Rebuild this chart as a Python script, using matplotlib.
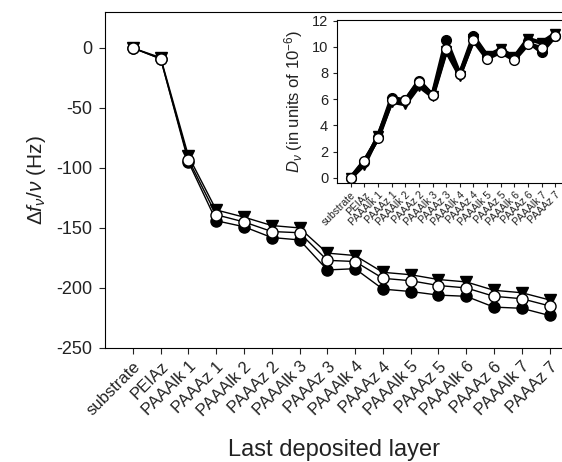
import numpy as np
import matplotlib
matplotlib.use("Agg")
import matplotlib.pyplot as plt

plt.rcParams['font.family'] = ['Liberation Sans', 'DejaVu Sans']
plt.rcParams['axes.unicode_minus'] = False
plt.rcParams['mathtext.fontset'] = 'custom'
plt.rcParams['mathtext.rm'] = 'Liberation Sans'
plt.rcParams['mathtext.it'] = 'Liberation Sans:italic'

layers = ["substrate", "PEIAz", "PAAAlk 1", "PAAAz 1", "PAAAlk 2", "PAAAz 2",
          "PAAAlk 3", "PAAAz 3", "PAAAlk 4", "PAAAz 4", "PAAAlk 5", "PAAAz 5",
          "PAAAlk 6", "PAAAz 6", "PAAAlk 7", "PAAAz 7"]

# frequency shift (Hz), three overtones
df_filled = [0, -9, -95, -144, -149, -158, -160, -185, -184, -201, -203, -206, -207, -216, -217, -223]
df_open = [0, -9, -93, -139, -145, -153, -154, -177, -178, -192, -194, -198, -200, -207, -209, -215]
df_tri = [0, -8, -90, -135, -141, -148, -150, -171, -173, -187, -189, -193, -195, -202, -204, -210]

# dissipation (1e-6)
d_filled = [0, 1.2, 3.1, 6.1, 5.9, 7.4, 6.3, 10.5, 7.9, 10.8, 9.3, 9.7, 9.2, 10.4, 9.6, 10.8]
d_open = [0, 1.3, 3.0, 5.9, 5.9, 7.3, 6.3, 9.8, 7.9, 10.5, 9.1, 9.6, 9.0, 10.2, 9.9, 10.8]
d_tri = [0, 1.0, 3.2, 5.8, 5.6, 7.0, 6.2, 9.7, 7.8, 10.6, 9.3, 9.8, 9.2, 10.6, 10.3, 11.0]

x = np.arange(len(layers))

fig = plt.figure(figsize=(5.62, 4.62), dpi=100)
ax = fig.add_axes([0.187, 0.247, 0.813, 0.727])

ax.plot(x, df_filled, '-o', color='black', lw=1, ms=8, mfc='black', mec='black', zorder=3)
ax.plot(x, df_tri, '-v', color='black', lw=1, ms=8.5, mfc='black', mec='black', zorder=4)
ax.plot(x, df_open, '-o', color='black', lw=1, ms=8, mfc='white', mec='black', zorder=5)

ax.set_xlim(-1, 15.45)
ax.set_ylim(-250, 30)
ax.set_yticks([0, -50, -100, -150, -200, -250])
ax.set_xticks(x)
ax.set_xticklabels(layers, rotation=45, ha='right', rotation_mode='anchor')
ax.tick_params(direction='out', length=4, pad=5, labelsize=13, colors='#222222')
ax.tick_params(axis='x', labelsize=12, pad=4)
ax.spines['right'].set_visible(False)
ax.set_ylabel(r'$\Delta f_\nu/\nu$ (Hz)', fontsize=15, color='#222222', labelpad=6)
ax.set_xlabel('Last deposited layer', fontsize=17, color='#222222', labelpad=15)

# inset
ins = fig.add_axes([0.6, 0.604, 0.4, 0.353])
ins.plot(x, d_filled, '-o', color='black', lw=3, ms=7, mfc='black', mec='black', zorder=3)
ins.plot(x, d_tri, '-v', color='black', lw=3, ms=7.5, mfc='black', mec='black', zorder=4)
ins.plot(x, d_open, '-o', color='black', lw=3, ms=7, mfc='white', mec='black', zorder=5)
ins.set_xlim(-1, 15.5)
ins.set_ylim(-0.4, 12.05)
ins.set_yticks([0, 2, 4, 6, 8, 10, 12])
ins.set_xticks(x)
ins.set_xticklabels(layers, rotation=45, ha='right', rotation_mode='anchor')
ins.tick_params(direction='out', length=3, labelsize=10.5, colors='#222222')
ins.tick_params(axis='x', labelsize=7.5, pad=2)
ins.spines['right'].set_visible(False)
ins.set_ylabel(r'$D_\nu$ (in units of 10$^{-6}$)', fontsize=12, color='#222222', labelpad=5)

fig.savefig('out.png', dpi=100)
